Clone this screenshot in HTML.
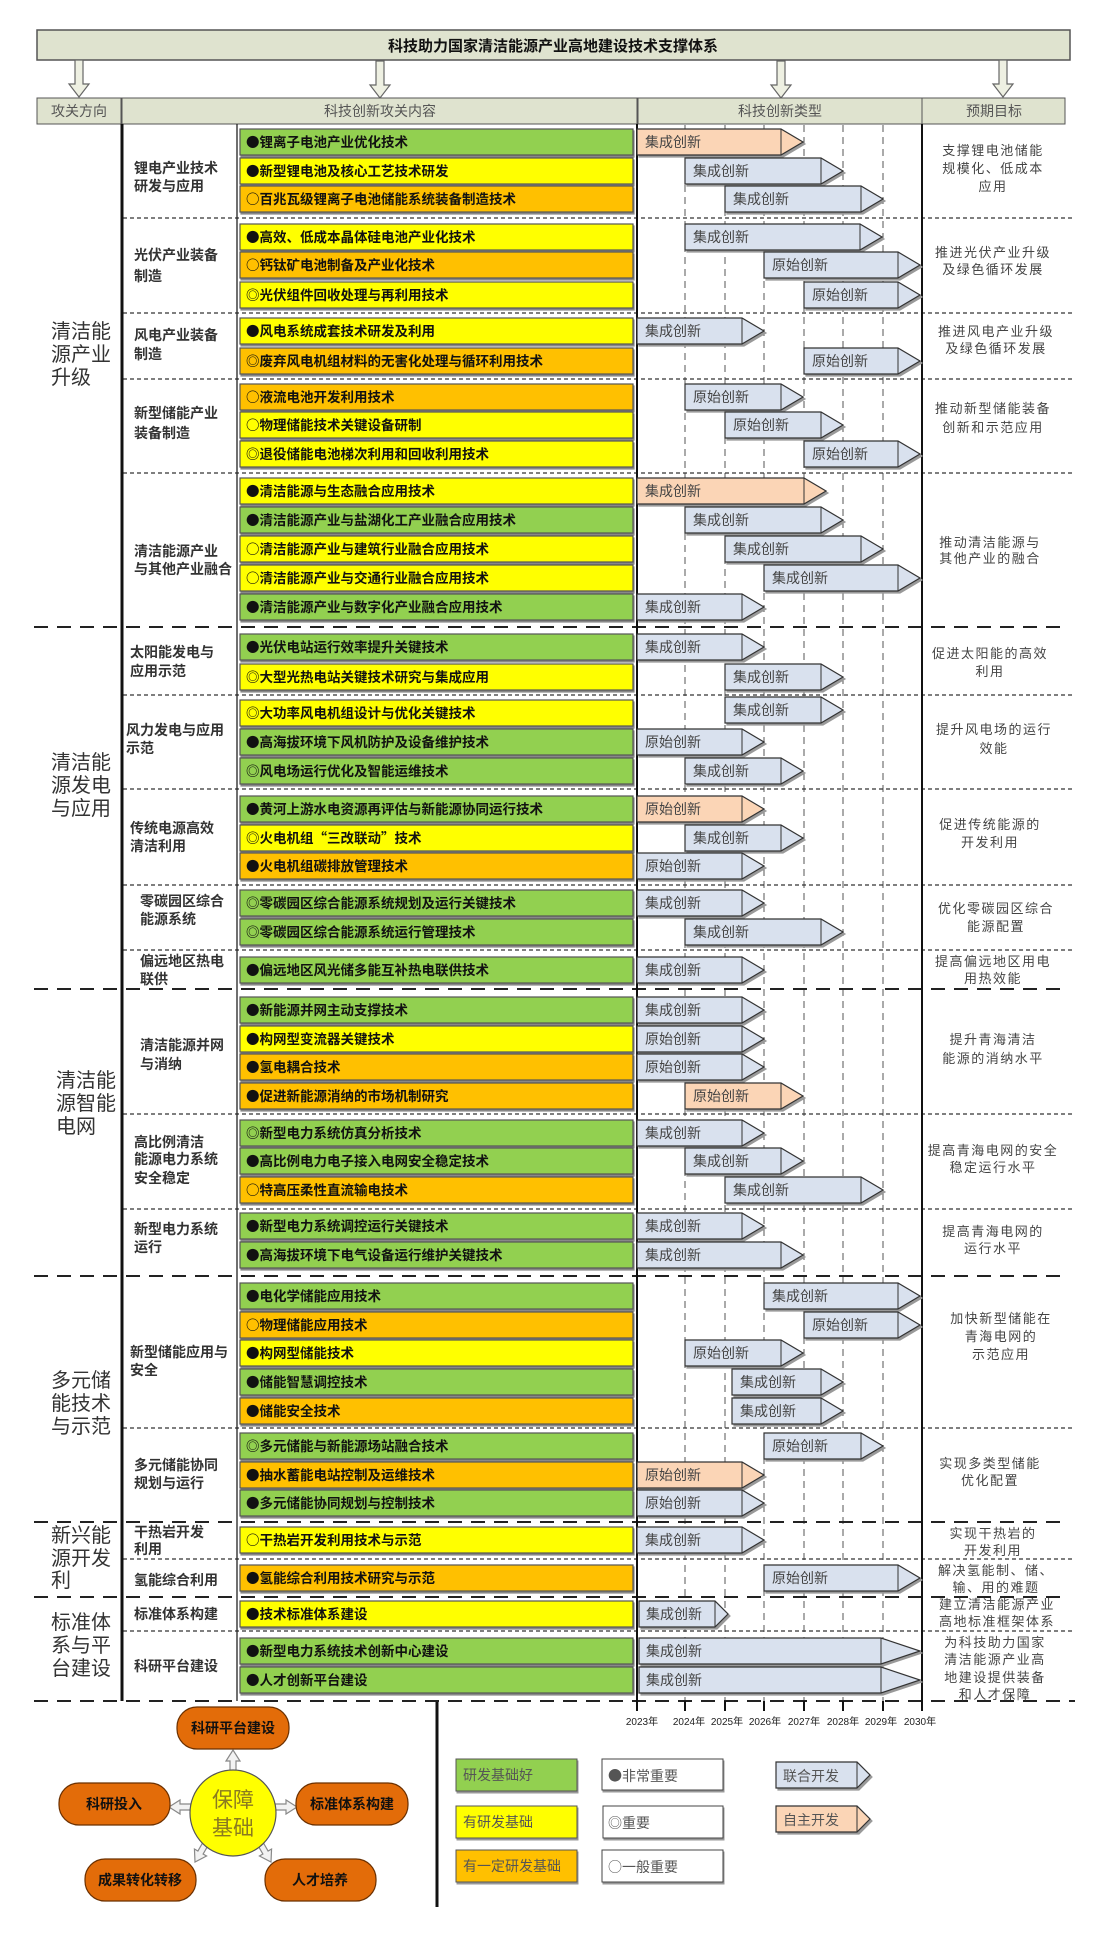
<!DOCTYPE html>
<html><head><meta charset="utf-8"><style>
html,body{margin:0;padding:0;background:#fff}
svg{display:block}
text{font-family:"Liberation Sans","Noto Sans CJK SC",sans-serif}
.g{fill:#92d050}.y{fill:#ffff00}.o{fill:#ffc000}
.bx{stroke:#555;stroke-width:1.2;filter:drop-shadow(1px 2px 0 #888)}
.t{font-size:13.5px;font-weight:bold;fill:#111;font-family:"Noto Sans CJK SC","Liberation Sans",sans-serif}
.ab{fill:#d9e1ee;stroke:#333;stroke-width:1.2;filter:drop-shadow(2px 2px 0 #999)}
.ap{fill:#fbd5b6;stroke:#333;stroke-width:1.2;filter:drop-shadow(2px 2px 0 #999)}
.al{font-size:14px;fill:#444}
.sub{font-size:14px;font-weight:bold;fill:#333}
.maj{font-size:20px;fill:#333}
.goal{font-size:13px;fill:#444;letter-spacing:1.5px;text-anchor:middle}
.hd{font-size:14px;fill:#555;text-anchor:middle}
.yr{font-size:10px;fill:#222;text-anchor:middle}
.lg{font-size:14px;fill:#555;font-family:"Noto Sans CJK SC","Liberation Sans",sans-serif}
.ov{fill:#e36c09;stroke:#6b3000;stroke-width:1.2}
.ovt{font-size:14px;font-weight:bold;fill:#111;text-anchor:middle}
</style></head><body>
<svg width="1104" height="1948" viewBox="0 0 1104 1948" xmlns="http://www.w3.org/2000/svg">
<defs>
<polygon id="da" points="-4,0 4,0 4,24 10,24 0,37 -10,24 -4,24" fill="#eef0e2" stroke="#666" stroke-width="1.2"/>
<polygon id="ba" points="-3,0 -3,-11 -7,-11 0,-22 7,-11 3,-11 3,0" fill="#f2f2f2" stroke="#888" stroke-width="1.2"/>
</defs>
<rect x="37" y="30" width="1033" height="30" fill="#dfe3cf" stroke="#555" stroke-width="1.5"/>
<text x="553" y="51" font-size="15" font-weight="bold" text-anchor="middle" fill="#111">科技助力国家清洁能源产业高地建设技术支撑体系</text>
<use href="#da" x="79" y="60"/><use href="#da" x="380" y="61"/><use href="#da" x="781" y="61"/><use href="#da" x="1003" y="60"/>
<rect x="37" y="98" width="84" height="26" fill="#dfe3cf" stroke="#555"/>
<rect x="122" y="98" width="515" height="26" fill="#dfe3cf" stroke="#555"/>
<rect x="638" y="98" width="284" height="26" fill="#dfe3cf" stroke="#555"/>
<rect x="922" y="98" width="143" height="26" fill="#dfe3cf" stroke="#555"/>
<text class="hd" x="79" y="116">攻关方向</text>
<text class="hd" x="380" y="116">科技创新攻关内容</text>
<text class="hd" x="780" y="116">科技创新类型</text>
<text class="hd" x="994" y="116">预期目标</text>
<g stroke="#555" stroke-width="1" stroke-dasharray="7,5">
<line x1="685" y1="125" x2="685" y2="1701"/><line x1="725" y1="125" x2="725" y2="1701"/>
<line x1="764" y1="125" x2="764" y2="1701"/><line x1="804" y1="125" x2="804" y2="1701"/>
<line x1="843" y1="125" x2="843" y2="1701"/><line x1="883" y1="125" x2="883" y2="1701"/>
</g>
<g stroke="#333" stroke-width="1.3" stroke-dasharray="4,3">
<line x1="123" y1="218" x2="1072" y2="218"/><line x1="123" y1="313" x2="1072" y2="313"/>
<line x1="123" y1="379" x2="1072" y2="379"/><line x1="123" y1="473" x2="1072" y2="473"/>
<line x1="123" y1="695" x2="1072" y2="695"/><line x1="123" y1="789" x2="1072" y2="789"/>
<line x1="123" y1="885" x2="1072" y2="885"/><line x1="123" y1="950" x2="1072" y2="950"/>
<line x1="123" y1="1114" x2="1072" y2="1114"/><line x1="123" y1="1209" x2="1072" y2="1209"/>
<line x1="123" y1="1428" x2="1072" y2="1428"/><line x1="123" y1="1559" x2="1072" y2="1559"/>
<line x1="123" y1="1631" x2="1072" y2="1631"/>
</g>
<g stroke="#222" stroke-width="2" stroke-dasharray="14,9">
<line x1="34" y1="627" x2="1065" y2="627"/><line x1="34" y1="989" x2="1065" y2="989"/>
<line x1="34" y1="1276" x2="1065" y2="1276"/><line x1="34" y1="1522" x2="1065" y2="1522"/>
<line x1="34" y1="1597" x2="1065" y2="1597"/><line x1="34" y1="1701" x2="1075" y2="1701"/>
</g>
<line x1="122" y1="124" x2="122" y2="1701" stroke="#111" stroke-width="3"/>
<line x1="237" y1="124" x2="237" y2="1701" stroke="#222" stroke-width="1.3"/>
<line x1="637" y1="124" x2="637" y2="1711" stroke="#111" stroke-width="2"/>
<line x1="922" y1="124" x2="922" y2="1711" stroke="#111" stroke-width="2"/>
<g stroke="#111" stroke-width="2">
<line x1="685" y1="1701" x2="685" y2="1711"/><line x1="725" y1="1701" x2="725" y2="1711"/>
<line x1="764" y1="1701" x2="764" y2="1711"/><line x1="804" y1="1701" x2="804" y2="1711"/>
<line x1="843" y1="1701" x2="843" y2="1711"/><line x1="883" y1="1701" x2="883" y2="1711"/>
</g>
<g>
<text class="yr" x="642" y="1725">2023年</text><text class="yr" x="689" y="1725">2024年</text>
<text class="yr" x="727" y="1725">2025年</text><text class="yr" x="765" y="1725">2026年</text>
<text class="yr" x="804" y="1725">2027年</text><text class="yr" x="843" y="1725">2028年</text>
<text class="yr" x="881" y="1725">2029年</text><text class="yr" x="920" y="1725">2030年</text>
</g>
<text class="maj" x="51" y="338">清洁能</text><text class="maj" x="51" y="361">源产业</text><text class="maj" x="51" y="384">升级</text>
<text class="maj" x="51" y="769">清洁能</text><text class="maj" x="51" y="792">源发电</text><text class="maj" x="51" y="815">与应用</text>
<text class="maj" x="56" y="1087">清洁能</text><text class="maj" x="56" y="1110">源智能</text><text class="maj" x="56" y="1133">电网</text>
<text class="maj" x="51" y="1387">多元储</text><text class="maj" x="51" y="1410">能技术</text><text class="maj" x="51" y="1433">与示范</text>
<text class="maj" x="51" y="1542">新兴能</text><text class="maj" x="51" y="1565">源开发</text><text class="maj" x="51" y="1587">利</text>
<text class="maj" x="51" y="1629">标准体</text><text class="maj" x="51" y="1652">系与平</text><text class="maj" x="51" y="1675">台建设</text>
<text class="sub" x="134" y="173">锂电产业技术</text><text class="sub" x="134" y="191">研发与应用</text>
<text class="sub" x="134" y="260">光伏产业装备</text><text class="sub" x="134" y="281">制造</text>
<text class="sub" x="134" y="340">风电产业装备</text><text class="sub" x="134" y="359">制造</text>
<text class="sub" x="134" y="418">新型储能产业</text><text class="sub" x="134" y="438">装备制造</text>
<text class="sub" x="134" y="556">清洁能源产业</text><text class="sub" x="134" y="574">与其他产业融合</text>
<text class="sub" x="130" y="657">太阳能发电与</text><text class="sub" x="130" y="676">应用示范</text>
<text class="sub" x="126" y="735">风力发电与应用</text><text class="sub" x="126" y="753">示范</text>
<text class="sub" x="130" y="833">传统电源高效</text><text class="sub" x="130" y="851">清洁利用</text>
<text class="sub" x="140" y="906">零碳园区综合</text><text class="sub" x="140" y="924">能源系统</text>
<text class="sub" x="140" y="966">偏远地区热电</text><text class="sub" x="140" y="984">联供</text>
<text class="sub" x="140" y="1050">清洁能源并网</text><text class="sub" x="140" y="1069">与消纳</text>
<text class="sub" x="134" y="1147">高比例清洁</text><text class="sub" x="134" y="1164">能源电力系统</text><text class="sub" x="134" y="1183">安全稳定</text>
<text class="sub" x="134" y="1234">新型电力系统</text><text class="sub" x="134" y="1252">运行</text>
<text class="sub" x="130" y="1357">新型储能应用与</text><text class="sub" x="130" y="1375">安全</text>
<text class="sub" x="134" y="1470">多元储能协同</text><text class="sub" x="134" y="1488">规划与运行</text>
<text class="sub" x="134" y="1537">干热岩开发</text><text class="sub" x="134" y="1554">利用</text>
<text class="sub" x="134" y="1585">氢能综合利用</text>
<text class="sub" x="134" y="1619">标准体系构建</text>
<text class="sub" x="134" y="1671">科研平台建设</text>
<text class="goal" x="993" y="155">支撑锂电池储能</text><text class="goal" x="993" y="173">规模化、低成本</text><text class="goal" x="993" y="191">应用</text>
<text class="goal" x="993" y="257">推进光伏产业升级</text><text class="goal" x="993" y="274">及绿色循环发展</text>
<text class="goal" x="996" y="336">推进风电产业升级</text><text class="goal" x="996" y="353">及绿色循环发展</text>
<text class="goal" x="993" y="413">推动新型储能装备</text><text class="goal" x="993" y="432">创新和示范应用</text>
<text class="goal" x="990" y="547">推动清洁能源与</text><text class="goal" x="990" y="563">其他产业的融合</text>
<text class="goal" x="990" y="658">促进太阳能的高效</text><text class="goal" x="990" y="676">利用</text>
<text class="goal" x="994" y="734">提升风电场的运行</text><text class="goal" x="994" y="753">效能</text>
<text class="goal" x="990" y="829">促进传统能源的</text><text class="goal" x="990" y="847">开发利用</text>
<text class="goal" x="996" y="913">优化零碳园区综合</text><text class="goal" x="996" y="931">能源配置</text>
<text class="goal" x="993" y="966">提高偏远地区用电</text><text class="goal" x="993" y="983">用热效能</text>
<text class="goal" x="993" y="1044">提升青海清洁</text><text class="goal" x="993" y="1063">能源的消纳水平</text>
<text class="goal" x="993" y="1155">提高青海电网的安全</text><text class="goal" x="993" y="1172">稳定运行水平</text>
<text class="goal" x="993" y="1236">提高青海电网的</text><text class="goal" x="993" y="1253">运行水平</text>
<text class="goal" x="1001" y="1323">加快新型储能在</text><text class="goal" x="1001" y="1341">青海电网的</text><text class="goal" x="1001" y="1359">示范应用</text>
<text class="goal" x="990" y="1468">实现多类型储能</text><text class="goal" x="990" y="1485">优化配置</text>
<text class="goal" x="993" y="1538">实现干热岩的</text><text class="goal" x="993" y="1555">开发利用</text>
<text class="goal" x="996" y="1575">解决氢能制、储、</text><text class="goal" x="996" y="1592">输、用的难题</text>
<text class="goal" x="997" y="1609">建立清洁能源产业</text><text class="goal" x="997" y="1626">高地标准框架体系</text>
<text class="goal" x="995" y="1647">为科技助力国家</text><text class="goal" x="995" y="1664">清洁能源产业高</text><text class="goal" x="995" y="1682">地建设提供装备</text><text class="goal" x="995" y="1699">和人才保障</text>

<g transform="translate(0,142)"><rect class="bx g" x="240" y="-13" width="393" height="26"/><text class="t" x="246" y="5">●锂离子电池产业优化技术</text><polygon class="ap" points="637,-13 781,-13 803,0 781,13 637,13"/><line x1="781" y1="-13" x2="781" y2="13" stroke="#333"/><text class="al" x="645" y="5">集成创新</text></g>
<g transform="translate(0,171)"><rect class="bx y" x="240" y="-13" width="393" height="26"/><text class="t" x="246" y="5">●新型锂电池及核心工艺技术研发</text><polygon class="ab" points="685,-13 821,-13 843,0 821,13 685,13"/><line x1="821" y1="-13" x2="821" y2="13" stroke="#333"/><text class="al" x="693" y="5">集成创新</text></g>
<g transform="translate(0,199)"><rect class="bx o" x="240" y="-13" width="393" height="26"/><text class="t" x="246" y="5">○百兆瓦级锂离子电池储能系统装备制造技术</text><polygon class="ab" points="725,-13 861,-13 883,0 861,13 725,13"/><line x1="861" y1="-13" x2="861" y2="13" stroke="#333"/><text class="al" x="733" y="5">集成创新</text></g>
<g transform="translate(0,237)"><rect class="bx y" x="240" y="-13" width="393" height="26"/><text class="t" x="246" y="5">●高效、低成本晶体硅电池产业化技术</text><polygon class="ab" points="685,-13 860,-13 882,0 860,13 685,13"/><line x1="860" y1="-13" x2="860" y2="13" stroke="#333"/><text class="al" x="693" y="5">集成创新</text></g>
<g transform="translate(0,265)"><rect class="bx o" x="240" y="-13" width="393" height="26"/><text class="t" x="246" y="5">○钙钛矿电池制备及产业化技术</text><polygon class="ab" points="764,-13 898,-13 920,0 898,13 764,13"/><line x1="898" y1="-13" x2="898" y2="13" stroke="#333"/><text class="al" x="772" y="5">原始创新</text></g>
<g transform="translate(0,295)"><rect class="bx y" x="240" y="-13" width="393" height="26"/><text class="t" x="246" y="5">◎光伏组件回收处理与再利用技术</text><polygon class="ab" points="804,-13 898,-13 920,0 898,13 804,13"/><line x1="898" y1="-13" x2="898" y2="13" stroke="#333"/><text class="al" x="812" y="5">原始创新</text></g>
<g transform="translate(0,331)"><rect class="bx y" x="240" y="-13" width="393" height="26"/><text class="t" x="246" y="5">●风电系统成套技术研发及利用</text><polygon class="ab" points="637,-13 742,-13 764,0 742,13 637,13"/><line x1="742" y1="-13" x2="742" y2="13" stroke="#333"/><text class="al" x="645" y="5">集成创新</text></g>
<g transform="translate(0,361)"><rect class="bx o" x="240" y="-13" width="393" height="26"/><text class="t" x="246" y="5">◎废弃风电机组材料的无害化处理与循环利用技术</text><polygon class="ab" points="804,-13 898,-13 920,0 898,13 804,13"/><line x1="898" y1="-13" x2="898" y2="13" stroke="#333"/><text class="al" x="812" y="5">原始创新</text></g>
<g transform="translate(0,397)"><rect class="bx o" x="240" y="-13" width="393" height="26"/><text class="t" x="246" y="5">○液流电池开发利用技术</text><polygon class="ab" points="685,-13 781,-13 803,0 781,13 685,13"/><line x1="781" y1="-13" x2="781" y2="13" stroke="#333"/><text class="al" x="693" y="5">原始创新</text></g>
<g transform="translate(0,425)"><rect class="bx y" x="240" y="-13" width="393" height="26"/><text class="t" x="246" y="5">○物理储能技术关键设备研制</text><polygon class="ab" points="725,-13 821,-13 843,0 821,13 725,13"/><line x1="821" y1="-13" x2="821" y2="13" stroke="#333"/><text class="al" x="733" y="5">原始创新</text></g>
<g transform="translate(0,454)"><rect class="bx y" x="240" y="-13" width="393" height="26"/><text class="t" x="246" y="5">◎退役储能电池梯次利用和回收利用技术</text><polygon class="ab" points="804,-13 898,-13 920,0 898,13 804,13"/><line x1="898" y1="-13" x2="898" y2="13" stroke="#333"/><text class="al" x="812" y="5">原始创新</text></g>
<g transform="translate(0,491)"><rect class="bx y" x="240" y="-13" width="393" height="26"/><text class="t" x="246" y="5">●清洁能源与生态融合应用技术</text><polygon class="ap" points="637,-13 804,-13 826,0 804,13 637,13"/><line x1="804" y1="-13" x2="804" y2="13" stroke="#333"/><text class="al" x="645" y="5">集成创新</text></g>
<g transform="translate(0,520)"><rect class="bx g" x="240" y="-13" width="393" height="26"/><text class="t" x="246" y="5">●清洁能源产业与盐湖化工产业融合应用技术</text><polygon class="ab" points="685,-13 821,-13 843,0 821,13 685,13"/><line x1="821" y1="-13" x2="821" y2="13" stroke="#333"/><text class="al" x="693" y="5">集成创新</text></g>
<g transform="translate(0,549)"><rect class="bx y" x="240" y="-13" width="393" height="26"/><text class="t" x="246" y="5">○清洁能源产业与建筑行业融合应用技术</text><polygon class="ab" points="725,-13 861,-13 883,0 861,13 725,13"/><line x1="861" y1="-13" x2="861" y2="13" stroke="#333"/><text class="al" x="733" y="5">集成创新</text></g>
<g transform="translate(0,578)"><rect class="bx y" x="240" y="-13" width="393" height="26"/><text class="t" x="246" y="5">○清洁能源产业与交通行业融合应用技术</text><polygon class="ab" points="764,-13 898,-13 920,0 898,13 764,13"/><line x1="898" y1="-13" x2="898" y2="13" stroke="#333"/><text class="al" x="772" y="5">集成创新</text></g>
<g transform="translate(0,607)"><rect class="bx g" x="240" y="-13" width="393" height="26"/><text class="t" x="246" y="5">●清洁能源产业与数字化产业融合应用技术</text><polygon class="ab" points="637,-13 742,-13 764,0 742,13 637,13"/><line x1="742" y1="-13" x2="742" y2="13" stroke="#333"/><text class="al" x="645" y="5">集成创新</text></g>
<g transform="translate(0,647)"><rect class="bx g" x="240" y="-13" width="393" height="26"/><text class="t" x="246" y="5">●光伏电站运行效率提升关键技术</text><polygon class="ab" points="637,-13 742,-13 764,0 742,13 637,13"/><line x1="742" y1="-13" x2="742" y2="13" stroke="#333"/><text class="al" x="645" y="5">集成创新</text></g>
<g transform="translate(0,677)"><rect class="bx y" x="240" y="-13" width="393" height="26"/><text class="t" x="246" y="5">◎大型光热电站关键技术研究与集成应用</text><polygon class="ab" points="725,-13 821,-13 843,0 821,13 725,13"/><line x1="821" y1="-13" x2="821" y2="13" stroke="#333"/><text class="al" x="733" y="5">集成创新</text></g>
<g transform="translate(0,713)"><rect class="bx y" x="240" y="-13" width="393" height="26"/><text class="t" x="246" y="5">◎大功率风电机组设计与优化关键技术</text><polygon class="ab" points="725,-16 821,-16 843,-3 821,10 725,10"/><line x1="821" y1="-16" x2="821" y2="10" stroke="#333"/><text class="al" x="733" y="2">集成创新</text></g>
<g transform="translate(0,742)"><rect class="bx g" x="240" y="-13" width="393" height="26"/><text class="t" x="246" y="5">●高海拔环境下风机防护及设备维护技术</text><polygon class="ab" points="637,-13 742,-13 764,0 742,13 637,13"/><line x1="742" y1="-13" x2="742" y2="13" stroke="#333"/><text class="al" x="645" y="5">原始创新</text></g>
<g transform="translate(0,771)"><rect class="bx g" x="240" y="-13" width="393" height="26"/><text class="t" x="246" y="5">◎风电场运行优化及智能运维技术</text><polygon class="ab" points="685,-13 781,-13 803,0 781,13 685,13"/><line x1="781" y1="-13" x2="781" y2="13" stroke="#333"/><text class="al" x="693" y="5">集成创新</text></g>
<g transform="translate(0,809)"><rect class="bx g" x="240" y="-13" width="393" height="26"/><text class="t" x="246" y="5">●黄河上游水电资源再评估与新能源协同运行技术</text><polygon class="ap" points="637,-13 742,-13 764,0 742,13 637,13"/><line x1="742" y1="-13" x2="742" y2="13" stroke="#333"/><text class="al" x="645" y="5">原始创新</text></g>
<g transform="translate(0,838)"><rect class="bx y" x="240" y="-13" width="393" height="26"/><text class="t" x="246" y="5">◎火电机组“三改联动”技术</text><polygon class="ab" points="685,-13 781,-13 803,0 781,13 685,13"/><line x1="781" y1="-13" x2="781" y2="13" stroke="#333"/><text class="al" x="693" y="5">集成创新</text></g>
<g transform="translate(0,866)"><rect class="bx o" x="240" y="-13" width="393" height="26"/><text class="t" x="246" y="5">●火电机组碳排放管理技术</text><polygon class="ab" points="637,-13 742,-13 764,0 742,13 637,13"/><line x1="742" y1="-13" x2="742" y2="13" stroke="#333"/><text class="al" x="645" y="5">原始创新</text></g>
<g transform="translate(0,903)"><rect class="bx g" x="240" y="-13" width="393" height="26"/><text class="t" x="246" y="5">◎零碳园区综合能源系统规划及运行关键技术</text><polygon class="ab" points="637,-13 742,-13 764,0 742,13 637,13"/><line x1="742" y1="-13" x2="742" y2="13" stroke="#333"/><text class="al" x="645" y="5">集成创新</text></g>
<g transform="translate(0,932)"><rect class="bx g" x="240" y="-13" width="393" height="26"/><text class="t" x="246" y="5">◎零碳园区综合能源系统运行管理技术</text><polygon class="ab" points="685,-13 821,-13 843,0 821,13 685,13"/><line x1="821" y1="-13" x2="821" y2="13" stroke="#333"/><text class="al" x="693" y="5">集成创新</text></g>
<g transform="translate(0,970)"><rect class="bx g" x="240" y="-13" width="393" height="26"/><text class="t" x="246" y="5">●偏远地区风光储多能互补热电联供技术</text><polygon class="ab" points="637,-13 742,-13 764,0 742,13 637,13"/><line x1="742" y1="-13" x2="742" y2="13" stroke="#333"/><text class="al" x="645" y="5">集成创新</text></g>
<g transform="translate(0,1010)"><rect class="bx g" x="240" y="-13" width="393" height="26"/><text class="t" x="246" y="5">●新能源并网主动支撑技术</text><polygon class="ab" points="637,-13 742,-13 764,0 742,13 637,13"/><line x1="742" y1="-13" x2="742" y2="13" stroke="#333"/><text class="al" x="645" y="5">集成创新</text></g>
<g transform="translate(0,1039)"><rect class="bx y" x="240" y="-13" width="393" height="26"/><text class="t" x="246" y="5">●构网型变流器关键技术</text><polygon class="ab" points="637,-13 742,-13 764,0 742,13 637,13"/><line x1="742" y1="-13" x2="742" y2="13" stroke="#333"/><text class="al" x="645" y="5">原始创新</text></g>
<g transform="translate(0,1067)"><rect class="bx o" x="240" y="-13" width="393" height="26"/><text class="t" x="246" y="5">●氢电耦合技术</text><polygon class="ab" points="637,-13 742,-13 764,0 742,13 637,13"/><line x1="742" y1="-13" x2="742" y2="13" stroke="#333"/><text class="al" x="645" y="5">原始创新</text></g>
<g transform="translate(0,1096)"><rect class="bx o" x="240" y="-13" width="393" height="26"/><text class="t" x="246" y="5">●促进新能源消纳的市场机制研究</text><polygon class="ap" points="685,-13 781,-13 803,0 781,13 685,13"/><line x1="781" y1="-13" x2="781" y2="13" stroke="#333"/><text class="al" x="693" y="5">原始创新</text></g>
<g transform="translate(0,1133)"><rect class="bx g" x="240" y="-13" width="393" height="26"/><text class="t" x="246" y="5">◎新型电力系统仿真分析技术</text><polygon class="ab" points="637,-13 742,-13 764,0 742,13 637,13"/><line x1="742" y1="-13" x2="742" y2="13" stroke="#333"/><text class="al" x="645" y="5">集成创新</text></g>
<g transform="translate(0,1161)"><rect class="bx g" x="240" y="-13" width="393" height="26"/><text class="t" x="246" y="5">●高比例电力电子接入电网安全稳定技术</text><polygon class="ab" points="685,-13 781,-13 803,0 781,13 685,13"/><line x1="781" y1="-13" x2="781" y2="13" stroke="#333"/><text class="al" x="693" y="5">集成创新</text></g>
<g transform="translate(0,1190)"><rect class="bx o" x="240" y="-13" width="393" height="26"/><text class="t" x="246" y="5">○特高压柔性直流输电技术</text><polygon class="ab" points="725,-13 861,-13 883,0 861,13 725,13"/><line x1="861" y1="-13" x2="861" y2="13" stroke="#333"/><text class="al" x="733" y="5">集成创新</text></g>
<g transform="translate(0,1226)"><rect class="bx g" x="240" y="-13" width="393" height="26"/><text class="t" x="246" y="5">●新型电力系统调控运行关键技术</text><polygon class="ab" points="637,-13 742,-13 764,0 742,13 637,13"/><line x1="742" y1="-13" x2="742" y2="13" stroke="#333"/><text class="al" x="645" y="5">集成创新</text></g>
<g transform="translate(0,1255)"><rect class="bx g" x="240" y="-13" width="393" height="26"/><text class="t" x="246" y="5">●高海拔环境下电气设备运行维护关键技术</text><polygon class="ab" points="637,-13 781,-13 803,0 781,13 637,13"/><line x1="781" y1="-13" x2="781" y2="13" stroke="#333"/><text class="al" x="645" y="5">集成创新</text></g>
<g transform="translate(0,1296)"><rect class="bx g" x="240" y="-13" width="393" height="26"/><text class="t" x="246" y="5">●电化学储能应用技术</text><polygon class="ab" points="764,-13 898,-13 920,0 898,13 764,13"/><line x1="898" y1="-13" x2="898" y2="13" stroke="#333"/><text class="al" x="772" y="5">集成创新</text></g>
<g transform="translate(0,1325)"><rect class="bx o" x="240" y="-13" width="393" height="26"/><text class="t" x="246" y="5">○物理储能应用技术</text><polygon class="ab" points="804,-13 898,-13 920,0 898,13 804,13"/><line x1="898" y1="-13" x2="898" y2="13" stroke="#333"/><text class="al" x="812" y="5">原始创新</text></g>
<g transform="translate(0,1353)"><rect class="bx y" x="240" y="-13" width="393" height="26"/><text class="t" x="246" y="5">●构网型储能技术</text><polygon class="ab" points="685,-13 781,-13 803,0 781,13 685,13"/><line x1="781" y1="-13" x2="781" y2="13" stroke="#333"/><text class="al" x="693" y="5">原始创新</text></g>
<g transform="translate(0,1382)"><rect class="bx g" x="240" y="-13" width="393" height="26"/><text class="t" x="246" y="5">●储能智慧调控技术</text><polygon class="ab" points="732,-13 821,-13 843,0 821,13 732,13"/><line x1="821" y1="-13" x2="821" y2="13" stroke="#333"/><text class="al" x="740" y="5">集成创新</text></g>
<g transform="translate(0,1411)"><rect class="bx o" x="240" y="-13" width="393" height="26"/><text class="t" x="246" y="5">●储能安全技术</text><polygon class="ab" points="732,-13 821,-13 843,0 821,13 732,13"/><line x1="821" y1="-13" x2="821" y2="13" stroke="#333"/><text class="al" x="740" y="5">集成创新</text></g>
<g transform="translate(0,1446)"><rect class="bx g" x="240" y="-13" width="393" height="26"/><text class="t" x="246" y="5">◎多元储能与新能源场站融合技术</text><polygon class="ab" points="764,-13 861,-13 883,0 861,13 764,13"/><line x1="861" y1="-13" x2="861" y2="13" stroke="#333"/><text class="al" x="772" y="5">原始创新</text></g>
<g transform="translate(0,1475)"><rect class="bx o" x="240" y="-13" width="393" height="26"/><text class="t" x="246" y="5">●抽水蓄能电站控制及运维技术</text><polygon class="ap" points="637,-13 742,-13 764,0 742,13 637,13"/><line x1="742" y1="-13" x2="742" y2="13" stroke="#333"/><text class="al" x="645" y="5">原始创新</text></g>
<g transform="translate(0,1503)"><rect class="bx g" x="240" y="-13" width="393" height="26"/><text class="t" x="246" y="5">●多元储能协同规划与控制技术</text><polygon class="ab" points="637,-13 742,-13 764,0 742,13 637,13"/><line x1="742" y1="-13" x2="742" y2="13" stroke="#333"/><text class="al" x="645" y="5">原始创新</text></g>
<g transform="translate(0,1540)"><rect class="bx y" x="240" y="-13" width="393" height="26"/><text class="t" x="246" y="5">○干热岩开发利用技术与示范</text><polygon class="ab" points="637,-13 742,-13 764,0 742,13 637,13"/><line x1="742" y1="-13" x2="742" y2="13" stroke="#333"/><text class="al" x="645" y="5">集成创新</text></g>
<g transform="translate(0,1578)"><rect class="bx o" x="240" y="-13" width="393" height="26"/><text class="t" x="246" y="5">●氢能综合利用技术研究与示范</text><polygon class="ab" points="764,-13 898,-13 920,0 898,13 764,13"/><line x1="898" y1="-13" x2="898" y2="13" stroke="#333"/><text class="al" x="772" y="5">原始创新</text></g>
<g transform="translate(0,1614)"><rect class="bx y" x="240" y="-13" width="393" height="26"/><text class="t" x="246" y="5">●技术标准体系建设</text><polygon class="ab" points="639,-13 715,-13 728,0 715,13 639,13"/><line x1="715" y1="-13" x2="715" y2="13" stroke="#333"/><text class="al" x="646" y="5">集成创新</text></g>
<g transform="translate(0,1651)"><rect class="bx g" x="240" y="-13" width="393" height="26"/><text class="t" x="246" y="5">●新型电力系统技术创新中心建设</text><polygon class="ab" points="639,-13 881,-13 920,0 881,13 639,13"/><line x1="881" y1="-13" x2="881" y2="13" stroke="#333"/><text class="al" x="646" y="5">集成创新</text></g>
<g transform="translate(0,1680)"><rect class="bx g" x="240" y="-13" width="393" height="26"/><text class="t" x="246" y="5">●人才创新平台建设</text><polygon class="ab" points="639,-13 881,-13 920,0 881,13 639,13"/><line x1="881" y1="-13" x2="881" y2="13" stroke="#333"/><text class="al" x="646" y="5">集成创新</text></g>

<line x1="437" y1="1702" x2="437" y2="1907" stroke="#111" stroke-width="3"/>
<rect x="456" y="1759" width="121" height="32" fill="#92d050" stroke="#555" style="filter:drop-shadow(1px 2px 0 #999)"/>
<text class="lg" x="463" y="1780">研发基础好</text>
<rect x="456" y="1806" width="121" height="32" fill="#ffff00" stroke="#555" style="filter:drop-shadow(1px 2px 0 #999)"/>
<text class="lg" x="463" y="1827">有研发基础</text>
<rect x="456" y="1850" width="121" height="32" fill="#ffc000" stroke="#555" style="filter:drop-shadow(1px 2px 0 #999)"/>
<text class="lg" x="463" y="1871">有一定研发基础</text>
<rect x="602" y="1759" width="121" height="31" fill="#fff" stroke="#444" style="filter:drop-shadow(1px 2px 0 #999)"/>
<text class="lg" x="608" y="1781">●非常重要</text>
<rect x="603" y="1806" width="120" height="32" fill="#fff" stroke="#444" style="filter:drop-shadow(1px 2px 0 #999)"/>
<text class="lg" x="608" y="1828">◎重要</text>
<rect x="602" y="1850" width="121" height="32" fill="#fff" stroke="#444" style="filter:drop-shadow(1px 2px 0 #999)"/>
<text class="lg" x="608" y="1872">○一般重要</text>
<polygon class="ab" points="776,1762 857,1762 870,1775 857,1788 776,1788"/><line x1="857" y1="1762" x2="857" y2="1788" stroke="#333"/>
<text class="lg" x="783" y="1781">联合开发</text>
<polygon class="ap" points="776,1806 857,1806 870,1819 857,1832 776,1832"/><line x1="857" y1="1806" x2="857" y2="1832" stroke="#333"/>
<text class="lg" x="783" y="1825">自主开发</text>
<use href="#ba" transform="translate(233,1772)"/>
<use href="#ba" transform="translate(191,1807) rotate(-90)"/>
<use href="#ba" transform="translate(275,1807) rotate(90)"/>
<use href="#ba" transform="translate(206,1843) rotate(-150)"/>
<use href="#ba" transform="translate(260,1843) rotate(150)"/>
<rect class="ov" x="177" y="1707" width="112" height="42" rx="20"/>
<text class="ovt" x="233" y="1733">科研平台建设</text>
<rect class="ov" x="59" y="1783" width="111" height="42" rx="20"/>
<text class="ovt" x="114" y="1809">科研投入</text>
<rect class="ov" x="296" y="1783" width="112" height="42" rx="20"/>
<text class="ovt" x="352" y="1809">标准体系构建</text>
<rect class="ov" x="85" y="1859" width="111" height="42" rx="20"/>
<text class="ovt" x="140" y="1885">成果转化转移</text>
<rect class="ov" x="265" y="1859" width="111" height="42" rx="20"/>
<text class="ovt" x="320" y="1885">人才培养</text>
<ellipse cx="233" cy="1813" rx="43" ry="43" fill="#ffff00" stroke="#555" stroke-width="1.2"/>
<text x="233" y="1807" font-size="21" fill="#8a7a20" text-anchor="middle">保障</text>
<text x="233" y="1835" font-size="21" fill="#8a7a20" text-anchor="middle">基础</text>
</svg>
</body></html>
